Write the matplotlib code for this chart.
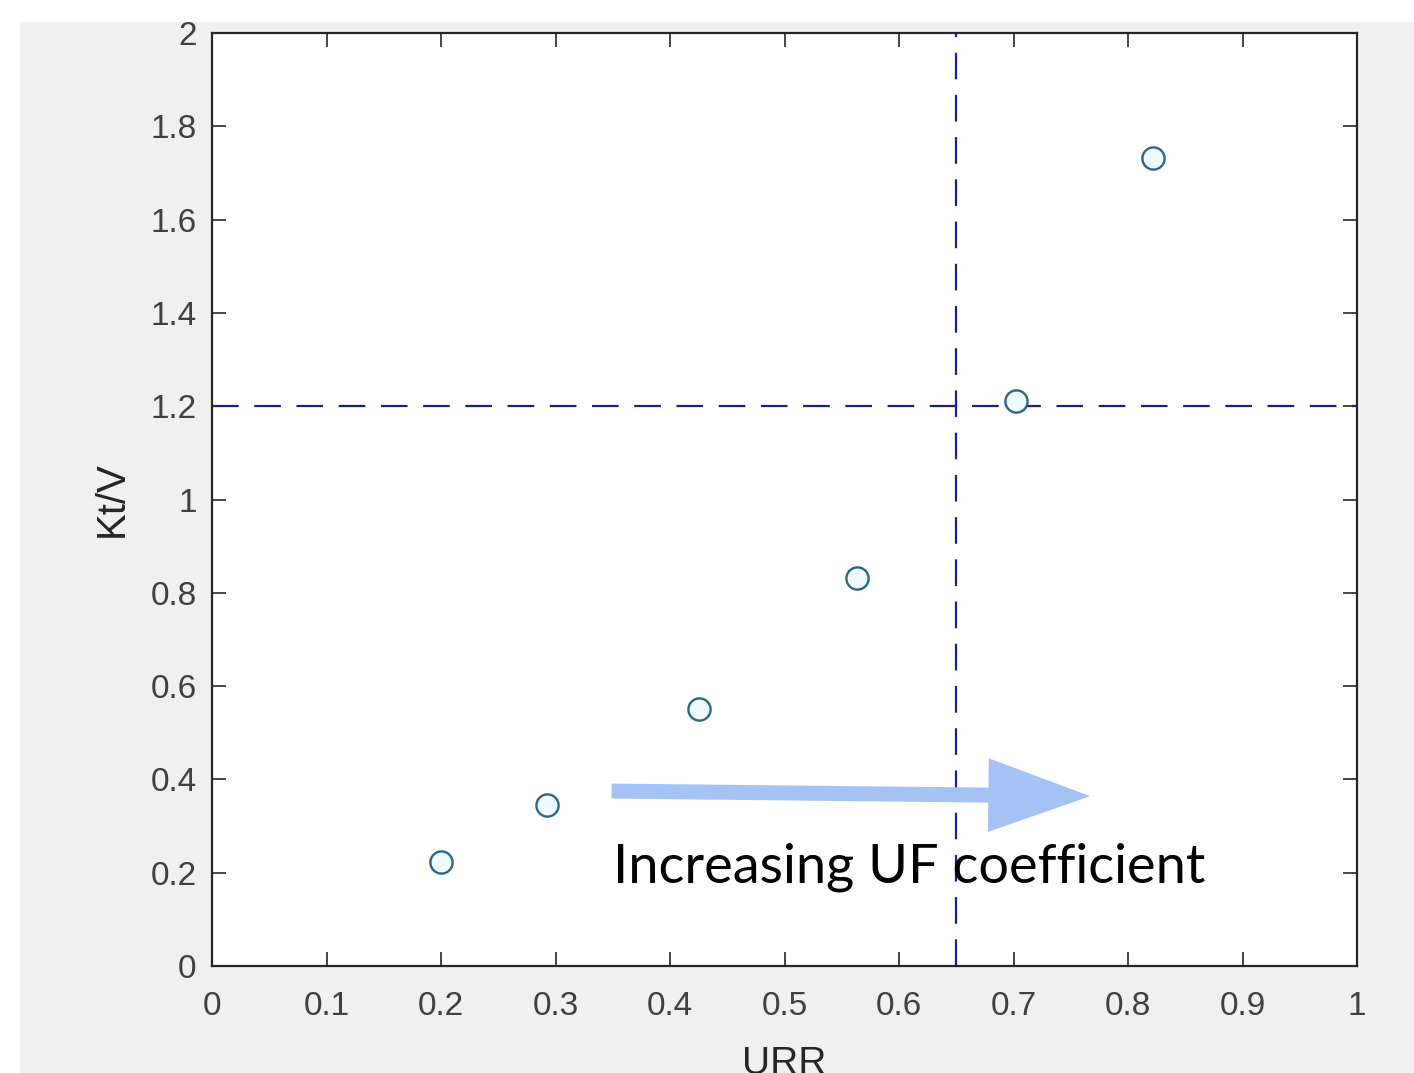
import matplotlib
matplotlib.use("Agg")
import matplotlib.pyplot as plt
from matplotlib.patches import Rectangle

# Data
urr = [0.200, 0.293, 0.425, 0.563, 0.702, 0.822]
ktv = [0.223, 0.345, 0.551, 0.832, 1.211, 1.732]
x_ref = 0.65
y_ref = 1.2
xticks = [0, 0.1, 0.2, 0.3, 0.4, 0.5, 0.6, 0.7, 0.8, 0.9, 1]
xticklabels = ["0", "0.1", "0.2", "0.3", "0.4", "0.5", "0.6", "0.7", "0.8", "0.9", "1"]
yticks = [0, 0.2, 0.4, 0.6, 0.8, 1.0, 1.2, 1.4, 1.6, 1.8, 2.0]
yticklabels = ["0", "0.2", "0.4", "0.6", "0.8", "1", "1.2", "1.4", "1.6", "1.8", "2"]
arrow_start = (0.349, 0.375)
arrow_end = (0.767, 0.364)
note_text = "Increasing UF coefficient"
note_pos = (0.350, 0.178)

W, H = 1414, 1073
fig = plt.figure(figsize=(W / 100, H / 100), dpi=100, facecolor="white")
fig.patches.append(Rectangle((20 / W, 0), 1 - 20 / W, 1 - 22 / H,
                             transform=fig.transFigure, facecolor="#f0f0f0",
                             edgecolor="none", zorder=-10))

ax = fig.add_axes([212 / W, (H - 966) / H, (1357 - 212) / W, (966 - 33) / H])
ax.set_zorder(1)
ax.set_facecolor("white")
ax.set_xlim(0, 1)
ax.set_ylim(0, 2)

dash_color = "#1c1c96"
ax.axhline(y_ref, color=dash_color, lw=1.6, linestyle=(0, (12, 7)), zorder=2)
ax.axvline(x_ref, color=dash_color, lw=1.6, linestyle=(0, (12, 7)), zorder=2)

ax.plot(urr, ktv, linestyle="none", marker="o", markersize=16,
        markerfacecolor="#eef9fc", markeredgecolor="#2a6686", markeredgewidth=1.7,
        zorder=3)

ax.annotate("", xy=arrow_end, xytext=arrow_start, xycoords="data",
            arrowprops=dict(arrowstyle="simple,head_length=1.63,head_width=1.18,tail_width=0.24",
                            color="#a4c2f4", lw=0, mutation_scale=45,
                            shrinkA=0, shrinkB=0), zorder=4)
ax.text(note_pos[0], note_pos[1], note_text, fontsize=39, color="black",
        family=["Lato", "DejaVu Sans"], ha="left", va="baseline", zorder=5)

ax.set_xticks(xticks)
ax.set_xticklabels(xticklabels)
ax.set_yticks(yticks)
ax.set_yticklabels(yticklabels)
ax.tick_params(direction="in", length=10, width=1.2, colors="#262626",
               labelcolor="#404040", labelsize=24, top=True, right=True)
ax.tick_params(axis="x", pad=18)
ax.tick_params(axis="y", pad=11)
for lab in ax.get_xticklabels() + ax.get_yticklabels():
    lab.set_family("Liberation Sans")
for s in ax.spines.values():
    s.set_color("#262626")
    s.set_linewidth(1.6)

ax.set_xlabel("URR", fontsize=28, color="#262626", family="Liberation Sans", labelpad=17)
ax.set_ylabel("Kt/V", fontsize=29, color="#262626", family="Liberation Sans", labelpad=14)

fig.savefig("out.png", dpi=100, facecolor=fig.get_facecolor())
